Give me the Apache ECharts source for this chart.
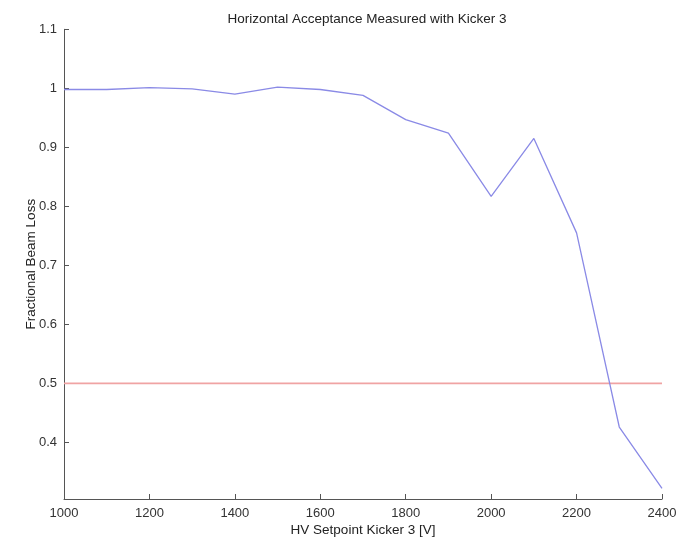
<!DOCTYPE html>
<html>
<head>
<meta charset="utf-8">
<script src="https://cdn.jsdelivr.net/npm/echarts@6/dist/echarts.min.js"></script>
<style>
  html, body { margin: 0; padding: 0; background: #fff; }
  #chart { width: 679px; height: 537px; }
</style>
</head>
<body>
<div id="chart"></div>
<script>
// HV setpoints of kicker 3 (V) and the measured fractional beam loss
const voltages = [1000, 1100, 1200, 1300, 1400, 1500, 1600, 1700, 1800, 1900, 2000, 2100, 2200, 2300, 2400];
const beamLoss = [0.998, 0.998, 1.001, 0.999, 0.990, 1.002, 0.998, 0.988, 0.947, 0.924, 0.817, 0.915, 0.755, 0.426, 0.322];

// 50% loss reference level across the scanned range
const thresholdX = [1000, 2400];
const thresholdY = [0.5, 0.5];

// axis ticks
const xTicks = [1000, 1200, 1400, 1600, 1800, 2000, 2200, 2400];
const yTicks = [0.4, 0.5, 0.6, 0.7, 0.8, 0.9, 1.0, 1.1];

const font = 'Liberation Sans, Arial, sans-serif';

const chart = echarts.init(document.getElementById('chart'), null, { renderer: 'canvas' });

const axisLineStyle = { color: '#555', width: 1 };

chart.setOption({
  backgroundColor: '#ffffff',
  animation: false,
  title: {
    text: 'Horizontal Acceptance Measured with Kicker 3',
    left: 362,
    textAlign: 'center',
    top: 7,
    textStyle: { fontFamily: font, fontSize: 13.5, fontWeight: 'normal', color: '#222' }
  },
  grid: { left: 64, right: 17, top: 29.3, bottom: 38, containLabel: false, outerBoundsMode: 'none' },
  xAxis: {
    type: 'value',
    min: 1000,
    max: 2400,
    interval: 200,
    name: 'HV Setpoint Kicker 3 [V]',
    nameLocation: 'middle',
    nameGap: 24,
    nameMoveOverlap: false,
    nameTextStyle: { fontFamily: font, fontSize: 13.5, color: '#222' },
    axisLine: { show: true, lineStyle: axisLineStyle },
    axisTick: { show: true, inside: true, length: 5, lineStyle: axisLineStyle, customValues: xTicks },
    axisLabel: {
      fontFamily: font, fontSize: 13, color: '#333', margin: 8,
      customValues: xTicks,
      formatter: v => String(v)
    },
    splitLine: { show: false }
  },
  yAxis: {
    type: 'value',
    min: 0.304,
    max: 1.1,
    name: 'Fractional Beam Loss',
    nameLocation: 'middle',
    nameGap: 25.5,
    nameRotate: 90,
    nameMoveOverlap: false,
    nameTextStyle: { fontFamily: font, fontSize: 13.5, color: '#222' },
    axisLine: { show: true, lineStyle: axisLineStyle },
    axisTick: { show: true, inside: true, length: 5, lineStyle: axisLineStyle, customValues: yTicks },
    axisLabel: {
      fontFamily: font, fontSize: 13, color: '#333', margin: 7,
      customValues: yTicks,
      formatter: v => String(Math.round(v * 10) / 10)
    },
    splitLine: { show: false }
  },
  series: [
    {
      name: 'threshold',
      type: 'line',
      data: thresholdX.map((x, i) => [x, thresholdY[i]]),
      symbol: 'none',
      lineStyle: { color: '#f0a3a3', width: 1.6 },
      silent: true,
      z: 2
    },
    {
      name: 'beam loss',
      type: 'line',
      data: voltages.map((v, i) => [v, beamLoss[i]]),
      symbol: 'none',
      lineStyle: { color: '#8a8ae6', width: 1.3 },
      silent: true,
      z: 3
    }
  ]
});
</script>
</body>
</html>
